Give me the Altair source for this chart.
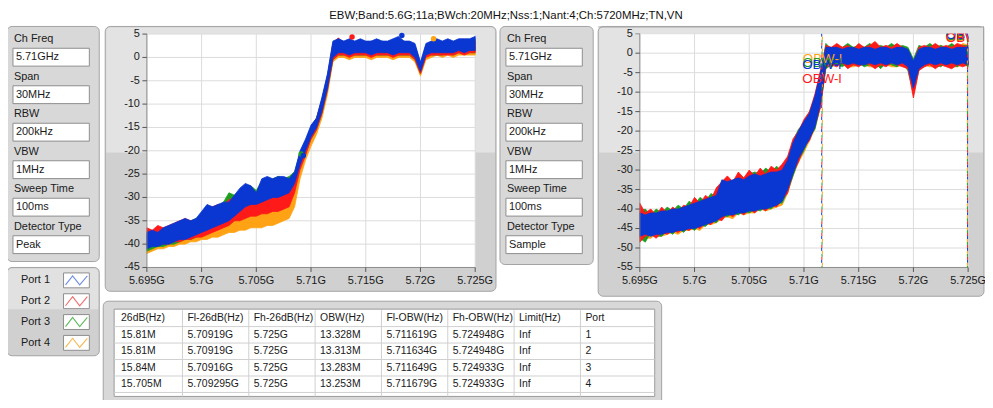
import altair as alt
import pandas as pd

# ---------------- data ----------------
TITLE = "EBW;Band:5.6G;11a;BWch:20MHz;Nss:1;Nant:4;Ch:5720MHz;TN,VN"
PORTS = ["Port 1", "Port 2", "Port 3", "Port 4"]
TRACE_COLORS = ["#0a36d2", "#ff1a1a", "#1e9e1e", "#ffa314"]
LEGEND_COLORS = ["#6d8ee8", "#f26b6b", "#5dbb5d", "#f8b64c"]

SETTING_NAMES = ["Ch Freq", "Span", "RBW", "VBW", "Sweep Time", "Detector Type"]
SETTINGS_LEFT = ["5.71GHz", "30MHz", "200kHz", "1MHz", "100ms", "Peak"]
SETTINGS_RIGHT = ["5.71GHz", "30MHz", "200kHz", "1MHz", "100ms", "Sample"]

TABLE_COLS = ["26dB(Hz)", "Fl-26dB(Hz)", "Fh-26dB(Hz)", "OBW(Hz)",
              "Fl-OBW(Hz)", "Fh-OBW(Hz)", "Limit(Hz)", "Port"]
TABLE_ROWS = [
    ["15.81M", "5.70919G", "5.725G", "13.328M", "5.711619G", "5.724948G", "Inf", "1"],
    ["15.81M", "5.70919G", "5.725G", "13.313M", "5.711634G", "5.724948G", "Inf", "2"],
    ["15.84M", "5.70916G", "5.725G", "13.283M", "5.711649G", "5.724933G", "Inf", "3"],
    ["15.705M", "5.709295G", "5.725G", "13.253M", "5.711679G", "5.724933G", "Inf", "4"],
]

X_TICKS = [5695, 5700, 5705, 5710, 5715, 5720, 5725]
X_TICK_LABELS = ["5.695G", "5.7G", "5.705G", "5.71G", "5.715G", "5.72G", "5.725G"]
Y_TICKS_1 = [5, 0, -5, -10, -15, -20, -25, -30, -35, -40, -45]
Y_TICKS_2 = [5, 0, -5, -10, -15, -20, -25, -30, -35, -40, -45, -50, -55]

FREQ = [5695.0, 5695.5, 5696.0, 5696.5, 5697.0, 5697.5, 5698.0, 5698.5, 5699.0, 5699.5,
        5700.0, 5700.5, 5701.0, 5701.5, 5702.0, 5702.5, 5703.0, 5703.5, 5704.0, 5704.5,
        5705.0, 5705.5, 5706.0, 5706.5, 5707.0, 5707.5, 5708.0, 5708.5, 5709.0, 5709.5,
        5710.0, 5710.5, 5711.0, 5711.5, 5712.0, 5712.5, 5713.0, 5713.5, 5714.0, 5714.5,
        5715.0, 5715.5, 5716.0, 5716.5, 5717.0, 5717.5, 5718.0, 5718.5, 5719.0, 5719.5,
        5720.0, 5720.5, 5721.0, 5721.5, 5722.0, 5722.5, 5723.0, 5723.5, 5724.0, 5724.5,
        5725.0]

# Chart 1 (Peak detector): envelope low / high per port, dBm
C1_P1_LO = [-41, -40.5, -40.5, -40, -40, -39.5, -39, -39, -38.5, -38,
            -37.5, -37, -36.5, -36, -35.5, -35, -34, -33, -32, -31.5,
            -31.5, -31, -30.5, -30, -30, -29.5, -29, -27, -23, -20,
            -17, -15, -11.5, -6.5, 0, 1, 1, 0.5, 1, 1,
            1, 0.5, 1, 1, 1, 0.5, 1, 1, 1, 0,
            -3, 0.5, 1, 1, 1, 1, 1, 1.5, 1, 1.5, 1.5]
C1_P1_HI = [-37.5, -37, -37.5, -36.5, -36, -35.5, -35, -34.5, -35, -34.5,
            -33, -31.5, -32, -31.5, -31, -31, -29.5, -28, -27, -27.5,
            -29, -26, -25.5, -26, -25.5, -25.5, -26, -24.5, -20, -17.5,
            -14.5, -13, -8.5, -3.5, 3.5, 4, 3.5, 4, 3.5, 4,
            3.5, 3.5, 4, 3.5, 3.5, 4, 4.5, 3.5, 3.5, 3,
            -1, 3, 3.5, 4, 3.5, 4, 3.5, 4, 4, 4, 4.5]
C1_P2_LO = [-40, -40, -39.5, -40, -40, -39.5, -39.5, -39, -39, -38.5,
            -38.5, -38, -37.5, -37, -36.5, -36, -35, -35, -34.5, -34,
            -34, -33.5, -33.5, -33, -33, -32.5, -32, -29, -24, -21,
            -17.5, -15.5, -12, -7, -0.5, 0.5, 0.5, 0, 0.5, 0.5,
            0.5, 0, 0.5, 0.5, 0.5, 0, 0.5, 0.5, 0.5, -0.5,
            -3.5, 0, 0.5, 0.5, 0.5, 0.5, 0.5, 1, 0.5, 1, 1]
C1_P2_HI = [-36.5, -37, -36, -36.5, -36, -35.5, -35, -34.5, -35, -35,
            -33.5, -32, -32, -31.5, -31.5, -30.5, -30, -29, -28.5, -28.5,
            -29.5, -28, -27.5, -27, -27.5, -27, -27.5, -25, -20.5, -18,
            -15, -13, -9, -4, 3, 4.2, 3, 3.5, 3, 3.5,
            3, 3, 3.5, 3, 3, 3.5, 3, 3, 3, 2.5,
            -1.5, 2.5, 3, 3.5, 3, 3, 3, 3.5, 3, 3, 3.5]
C1_P3_LO = [-41.5, -41, -40.5, -40.5, -40, -40, -39.5, -39, -39, -38.5,
            -38, -37.5, -37, -36.5, -36, -35.5, -35, -34, -33.5, -33,
            -32.5, -32, -32, -31.5, -31, -31, -30.5, -28, -23.5, -20.5,
            -17.5, -15.5, -12, -7, -0.5, 0.5, 0.5, 0.5, 0.5, 0.5,
            0.5, 0.5, 0.5, 0.5, 0.5, 0.5, 0.5, 0.5, 0.5, -0.5,
            -3.5, 0.5, 0.5, 0.5, 0.5, 1, 0.5, 1, 1, 1, 1]
C1_P3_HI = [-38, -37.5, -37, -37, -36.5, -36, -35.5, -35, -35, -34.5,
            -33.5, -32.5, -32, -32, -31, -29, -29.5, -28.5, -27.5, -27.5,
            -28.5, -26.5, -26, -26, -25.5, -26, -25.5, -24.5, -20.5, -18,
            -15, -13, -9, -4, 3, 3.5, 3, 3.5, 3, 3.5,
            3, 3.5, 3, 3.5, 3, 3.5, 3, 3.5, 3, 2.5,
            -1.5, 2.5, 3, 3.5, 3, 3.5, 3, 3.5, 3.5, 3.5, 4]
C1_P4_LO = [-42, -41.5, -41, -41, -40.5, -40.5, -40, -40, -39.5, -39.5,
            -39, -39, -38.5, -38.5, -38, -37.5, -37.5, -37, -37, -36.5,
            -36.5, -36.5, -36, -36, -35.5, -35, -34.5, -32, -26, -22,
            -19, -16.5, -13, -8, -1, 0, 0, -0.5, 0, 0,
            0, -0.5, 0, 0, 0, -0.5, 0, 0, 0, -1,
            -4, -0.5, 0, 0.5, 0, 0.5, 0, 0.5, 0.5, 0.5, 0.5]
C1_P4_HI = [-38, -37.5, -38, -37.5, -37, -36.5, -36, -36, -36, -35.5,
            -35, -34, -34, -33.5, -33, -32.5, -32, -31.5, -31, -31,
            -31.5, -31, -30.5, -30.5, -30, -30, -29.5, -27, -22, -19,
            -16, -14, -10, -5, 2, 2.5, 2.5, 2, 2.5, 2.5,
            2, 2.5, 2.5, 2, 2.5, 2.5, 2, 2.5, 2.5, 1.5,
            -2, 2, 2.5, 2.5, 2, 2.5, 2.5, 2, 2.5, 2.5, 2.5]

# Chart 1 markers (peak and -26 dB points)
C1_MARK_F = [5713.75, 5718.3, 5721.2, 5709.1, 5709.3]
C1_MARK_V = [4.4, 4.7, 4.0, -20.7, -21.0]
C1_MARK_PORT = ["Port 2", "Port 1", "Port 4", "Port 3", "Port 1"]

# Chart 2 (Sample detector)
C2_P1_LO = [-47, -46.5, -47, -46.5, -46.5, -46, -46, -45.5, -45.5, -45,
            -45, -44.5, -44, -43.5, -43, -42, -41.5, -41.5, -41, -41,
            -40.5, -40.5, -40, -40, -39.5, -39, -38, -35, -31, -27,
            -24.5, -22, -19, -13, -3, -2.5, -3, -2.5, -3, -2.5,
            -3, -3, -2.5, -3, -2.5, -3, -2.5, -3, -2.5, -3.5,
            -9, -4, -3, -2.5, -3, -2.5, -3, -2.5, -3, -2.5, -3]
C2_P1_HI = [-41, -41.5, -41, -41, -40.5, -40.5, -40, -40, -39.5, -39,
            -38.5, -38, -37.5, -37, -36.5, -32.5, -33, -32.5, -32, -32.5,
            -31.5, -31, -31.5, -31, -30.5, -30.5, -30, -27.5, -23, -20,
            -17.5, -15.5, -11, -5, 1.5, 1.5, 1.5, 1, 1.5, 1.5,
            1, 1.5, 1.5, 1, 1.5, 1.5, 1, 1.5, 1.5, 1,
            -2, 1, 1.5, 1.5, 1, 1.5, 1.5, 1, 1.5, 1.5, 1.5]
C2_P2_LO = [-48.5, -47, -46.5, -47.5, -46, -46.5, -45.5, -46, -45, -45.5,
            -44.5, -45, -43.5, -44, -42.5, -43, -41, -42, -40.5, -41.5,
            -40, -41, -39.5, -40.5, -39, -39.5, -37.5, -36, -30.5, -28,
            -24, -22.5, -18.5, -14, -3.5, -3, -3.5, -2.5, -4, -3,
            -3.5, -2.5, -3, -4, -3, -3.5, -2.5, -3, -3.5, -4,
            -11.5, -4.5, -3.5, -3, -4, -3, -3.5, -4, -3, -3.5, -3]
C2_P2_HI = [-38.5, -41, -40, -41.5, -39.5, -41, -39.5, -40.5, -39, -39.5,
            -37, -38.5, -36.5, -37.5, -34.5, -33, -31.5, -33, -30.5, -32,
            -30, -31.5, -29.5, -31, -29, -30, -28.5, -26.5, -22, -20,
            -17, -15, -10.5, -4.5, 2, 1.5, 2.5, 1.5, 2, 1,
            2.5, 1.5, 2, 3, 1.5, 2, 1.5, 2.5, 1.5, 0.5,
            -2.5, 1.5, 2, 1.5, 2.5, 1.5, 2, 1.5, 2.5, 2, 1.5]
C2_P3_LO = [-47.5, -48.5, -46, -47, -47, -45.5, -46.5, -45, -46, -44.5,
            -45.5, -44, -44.5, -43, -43.5, -41.5, -42, -41, -41.5, -40.5,
            -41, -40, -40.5, -39.5, -40, -38.5, -38.5, -35.5, -31.5, -27.5,
            -25, -21.5, -19.5, -13.5, -4, -3, -2.5, -3.5, -2.5, -3,
            -2.5, -3.5, -3, -2.5, -4, -2.5, -3, -3.5, -2.5, -4.5,
            -10, -4, -3.5, -2.5, -3, -3.5, -2.5, -3, -3.5, -2.5, -3.5]
C2_P3_HI = [-40.5, -40, -41.5, -40, -41, -39.5, -40.5, -39, -40, -38,
            -39, -37, -38, -36, -37, -33, -32, -33, -31.5, -32,
            -31, -30.5, -31, -29.5, -30.5, -29, -30.5, -27, -22.5, -19.5,
            -18, -15, -11.5, -5.5, 2.5, 1, 2, 1.5, 2.5, 1.5,
            2, 1.5, 2.5, 1.5, 2, 1.5, 2.5, 1.5, 2, 1.5,
            -1.5, 2, 1.5, 2.5, 1.5, 2, 1.5, 2.5, 1.5, 2, 2]
C2_P4_LO = [-48, -47.5, -47.5, -46.5, -47, -46.5, -46, -46.5, -45.5, -45.5,
            -45, -45.5, -44, -44, -43.5, -42.5, -42, -42.5, -41, -41.5,
            -41, -41, -40, -40.5, -40, -39.5, -39, -36, -31.5, -28,
            -25.5, -22.5, -19.5, -14, -3.5, -3.5, -3, -3, -3.5, -3.5,
            -3, -3, -3.5, -3.5, -3, -3, -3.5, -3.5, -3, -4,
            -10.5, -4.5, -3, -3.5, -3.5, -3, -3, -3.5, -3.5, -3, -3]
C2_P4_HI = [-41.5, -41, -40.5, -41.5, -40.5, -40, -41, -39.5, -40, -39.5,
            -38, -38.5, -37.5, -37, -35.5, -34, -33.5, -33, -32.5, -33,
            -32, -31.5, -32, -31, -31, -30, -29.5, -28, -23, -21,
            -18.5, -16, -12, -6, 1, 1, 1.5, 1, 1, 1.5,
            1, 1, 1.5, 1, 1, 1.5, 1, 1, 1.5, 0.5,
            -2.5, 1, 1, 1.5, 1, 2, 1, 1.5, 1, 2.5, 2]

# Chart 2 OBW cursors (MHz) and label heights (dBm)
OBW_L = [5711.619, 5711.634, 5711.649, 5711.679]
OBW_H = [5724.948, 5724.948, 5724.933, 5724.933]
OBW_L_LABEL_Y = [-3.0, -6.7, -2.6, -1.5]
OBW_H_LABEL_Y = [4.6, 3.9, 4.3, 4.1]

# ---------------- layout helpers ----------------
FONT = "Liberation Sans"
TXT = "#1a1a1a"
BORDER = "#a3a3a3"
PANEL = "#d8d8d8"
LIGHT = "#e3e3e3"
DARK = "#d0d0d0"
GRID = "#dcdcdc"
ONE = pd.DataFrame({"k": [0]})


def P(v):
    return v - 8


def rect(x0, y0, x1, y1, fill, stroke=None, radius=0, sw=1, **extra):
    kw = dict(fill=fill)
    if stroke:
        kw.update(stroke=stroke, strokeWidth=sw)
    if radius:
        kw["cornerRadius"] = radius
    kw.update(extra)
    return alt.Chart(ONE).mark_rect(**kw).encode(
        x=alt.value(P(x0)), x2=alt.value(P(x1)),
        y=alt.value(P(y0)), y2=alt.value(P(y1)))


def hline(x0, x1, y, color, sw=1):
    return alt.Chart(ONE).mark_rule(color=color, strokeWidth=sw).encode(
        x=alt.value(P(x0)), x2=alt.value(P(x1)), y=alt.value(P(y)))


def vline(x, y0, y1, color, sw=1):
    return alt.Chart(ONE).mark_rule(color=color, strokeWidth=sw).encode(
        x=alt.value(P(x)), y=alt.value(P(y0)), y2=alt.value(P(y1)))


def label(text, x, y, size=11, align="left", color=TXT):
    return alt.Chart(ONE).mark_text(text=text, align=align, baseline="middle",
                                    fontSize=size, font=FONT, color=color).encode(
        x=alt.value(P(x)), y=alt.value(P(y)))


trace_color = alt.Scale(domain=PORTS, range=TRACE_COLORS)
layers = []

# ---------------- panels ----------------
layers.append(label(TITLE, 510, 14, size=11.5, align="center", color="#111111"))

layers.append(rect(7, 25, 100, 262, PANEL, BORDER, 5))
layers.append(rect(106, 25, 500, 292, DARK, BORDER, 5))
layers.append(rect(107, 26, 499, 152, LIGHT, cornerRadiusTopLeft=4, cornerRadiusTopRight=4))
layers.append(rect(148, 32.7, 479, 268, "white"))
layers.append(rect(504, 25, 598, 265, PANEL, BORDER, 5))
layers.append(rect(603, 25, 992, 297, DARK, BORDER, 5))
layers.append(rect(604, 26, 991, 152, LIGHT, cornerRadiusTopLeft=4, cornerRadiusTopRight=4))
layers.append(rect(645, 32.3, 976, 268, "white"))
layers.append(rect(7, 268, 100, 357, DARK, BORDER, 5))
layers.append(rect(8, 269, 99, 310, "#e1e1e1", cornerRadiusTopLeft=4, cornerRadiusTopRight=4))
layers.append(rect(104, 302, 667, 412, PANEL, BORDER, 5))
layers.append(rect(115, 310, 660, 398, "white", "#9a9a9a"))

# ---------------- settings panels ----------------
settings_df = pd.DataFrame({"item": SETTING_NAMES, "left": SETTINGS_LEFT, "right": SETTINGS_RIGHT})
field_box = alt.Scale(domain=SETTING_NAMES, range=[P(47), P(254)], paddingInner=0.5238, paddingOuter=0)
field_txt = alt.Scale(domain=SETTING_NAMES, range=[P(37.1), P(263.9)], paddingInner=0, paddingOuter=0)
for x0, x1, col in [(13, 90, "left"), (510, 587, "right")]:
    layers.append(alt.Chart(settings_df).mark_rect(fill="white", stroke="#8e8e8e", strokeWidth=1).encode(
        y=alt.Y("item:N", scale=field_box, axis=None),
        x=alt.value(P(x0)), x2=alt.value(P(x1))))
    layers.append(alt.Chart(settings_df).mark_text(align="left", baseline="middle", fontSize=11,
                                                   font=FONT, color=TXT).encode(
        y=alt.Y("item:N", scale=field_txt, axis=None),
        x=alt.value(P(x0 + 3)), text=f"{col}:N"))
    layers.append(alt.Chart(settings_df).mark_text(align="left", baseline="middle", fontSize=11,
                                                   font=FONT, color=TXT, dy=-18).encode(
        y=alt.Y("item:N", scale=field_txt, axis=None),
        x=alt.value(P(x0 + 1)), text="item:N"))

# ---------------- legend ----------------
legend_df = pd.DataFrame({"port": PORTS})
leg_box = alt.Scale(domain=PORTS, range=[P(273.5), P(351.5)], paddingInner=0.2857, paddingOuter=0)
leg_txt = alt.Scale(domain=PORTS, range=[P(270.5), P(354.5)], paddingInner=0, paddingOuter=0)
layers.append(alt.Chart(legend_df).mark_text(align="left", baseline="middle", fontSize=11,
                                             font=FONT, color=TXT).encode(
    y=alt.Y("port:N", scale=leg_txt, axis=None), x=alt.value(P(21)), text="port:N"))
layers.append(alt.Chart(legend_df).mark_rect(fill="white", stroke="#8e8e8e").encode(
    y=alt.Y("port:N", scale=leg_box, axis=None), x=alt.value(P(64)), x2=alt.value(P(90))))
ZIGZAG = "M-1,0.42L-0.35,-0.42L0.3,0.42L1,-0.42"
layers.append(alt.Chart(legend_df).mark_point(shape=ZIGZAG, filled=False, strokeWidth=1.1,
                                              size=484, opacity=1).encode(
    y=alt.Y("port:N", scale=leg_txt, axis=None), x=alt.value(P(77)),
    stroke=alt.Stroke("port:N", scale=alt.Scale(domain=PORTS, range=LEGEND_COLORS), legend=None)))

# ---------------- table ----------------
ROW_KEYS = ["header", "r1", "r2", "r3", "r4"]
cells = []
for c, name in enumerate(TABLE_COLS):
    cells.append({"col": name, "row": "header", "txt": name})
    for r, row in enumerate(TABLE_ROWS):
        cells.append({"col": name, "row": ROW_KEYS[r + 1], "txt": row[c]})
cells_df = pd.DataFrame(cells)
COL_STEP = (652 - 117) / len(TABLE_COLS)
# band centres of this scale sit on the column boundaries (117, 184, 251, ...)
tcol = alt.Scale(domain=TABLE_COLS, range=[P(117 - COL_STEP / 2), P(652 - COL_STEP / 2)],
                 paddingInner=0, paddingOuter=0)
trow = alt.Scale(domain=ROW_KEYS, range=[P(311), P(394)], paddingInner=0, paddingOuter=0)
layers.append(alt.Chart(pd.DataFrame({"row": ROW_KEYS})).mark_rule(color="#cfcfcf").encode(
    y=alt.Y("row:N", scale=trow, bandPosition=1, axis=None),
    x=alt.value(P(115)), x2=alt.value(P(660))))
layers.append(alt.Chart(pd.DataFrame({"col": TABLE_COLS[1:]})).mark_rule(color="#cfcfcf").encode(
    x=alt.X("col:N", scale=tcol, axis=None),
    y=alt.value(P(311)), y2=alt.value(P(398))))
layers.append(alt.Chart(cells_df).mark_text(align="left", baseline="middle", fontSize=10.5,
                                            font=FONT, color=TXT, dx=5).encode(
    x=alt.X("col:N", scale=tcol, axis=None),
    y=alt.Y("row:N", scale=trow, axis=None), text="txt:N"))


# ---------------- spectrum charts ----------------
def spectrum(xr, yr, ydom, yticks, traces, plot_left, plot_top, plot_right, plot_bottom):
    xs = alt.Scale(domain=[5695, 5725], range=[P(xr[0]), P(xr[1])], nice=False, zero=False)
    ys = alt.Scale(domain=ydom, range=[P(yr[0]), P(yr[1])], nice=False, zero=False)
    out = []
    xt = pd.DataFrame({"v": X_TICKS, "t": X_TICK_LABELS})
    yt = pd.DataFrame({"v": yticks, "t": [str(v) for v in yticks]})
    out.append(alt.Chart(xt).mark_rule(color=GRID).encode(
        x=alt.X("v:Q", scale=xs, axis=None), y=alt.value(P(plot_top)), y2=alt.value(P(plot_bottom))))
    out.append(alt.Chart(yt).mark_rule(color=GRID).encode(
        y=alt.Y("v:Q", scale=ys, axis=None), x=alt.value(P(plot_left)), x2=alt.value(P(plot_right))))
    for port, lo, hi in traces:
        df = pd.DataFrame({"f": FREQ, "lo": lo, "hi": hi, "port": port})
        out.append(alt.Chart(df).mark_area(opacity=1, interpolate="linear", strokeWidth=0.8).encode(
            x=alt.X("f:Q", scale=xs, axis=None),
            y=alt.Y("lo:Q", scale=ys, axis=None), y2="hi:Q",
            color=alt.Color("port:N", scale=trace_color, legend=None),
            stroke=alt.Stroke("port:N", scale=trace_color, legend=None)))
    out.append(vline(plot_left, plot_top, plot_bottom, "#8c8c8c"))
    out.append(hline(plot_left, plot_right, plot_bottom, "#8c8c8c"))
    out.append(alt.Chart(xt).mark_rule(color="#555555").encode(
        x=alt.X("v:Q", scale=xs, axis=None), y=alt.value(P(plot_bottom)), y2=alt.value(P(plot_bottom + 4.5))))
    out.append(alt.Chart(yt).mark_rule(color="#555555").encode(
        y=alt.Y("v:Q", scale=ys, axis=None), x=alt.value(P(plot_left - 4.5)), x2=alt.value(P(plot_left))))
    out.append(alt.Chart(xt).mark_text(align="center", baseline="middle", fontSize=11, font=FONT,
                                       color=TXT).encode(
        x=alt.X("v:Q", scale=xs, axis=None), y=alt.value(P(plot_bottom + 14)), text="t:N"))
    out.append(alt.Chart(yt).mark_text(align="right", baseline="middle", fontSize=11, font=FONT,
                                       color=TXT).encode(
        y=alt.Y("v:Q", scale=ys, axis=None), x=alt.value(P(plot_left - 7)), text="t:N"))
    return out, xs, ys


traces1 = [("Port 4", C1_P4_LO, C1_P4_HI), ("Port 3", C1_P3_LO, C1_P3_HI),
           ("Port 2", C1_P2_LO, C1_P2_HI), ("Port 1", C1_P1_LO, C1_P1_HI)]
l1, xs1, ys1 = spectrum((148, 479), (268, 32.7), [-45, 5], Y_TICKS_1, traces1, 148, 32.7, 479, 268)
layers += l1
marks_df = pd.DataFrame({"f": C1_MARK_F, "v": C1_MARK_V, "port": C1_MARK_PORT})
layers.append(alt.Chart(marks_df).mark_circle(size=30, opacity=1).encode(
    x=alt.X("f:Q", scale=xs1, axis=None), y=alt.Y("v:Q", scale=ys1, axis=None),
    color=alt.Color("port:N", scale=trace_color, legend=None)))

traces2 = [("Port 4", C2_P4_LO, C2_P4_HI), ("Port 3", C2_P3_LO, C2_P3_HI),
           ("Port 2", C2_P2_LO, C2_P2_HI), ("Port 1", C2_P1_LO, C2_P1_HI)]
l2, xs2, ys2 = spectrum((645, 976), (268, 32.3), [-55, 5], Y_TICKS_2, traces2, 645, 32.3, 976, 268)
layers += l2

for k, port in enumerate(PORTS):
    cdf = pd.DataFrame({"f": [OBW_L[k], OBW_H[k]], "port": port})
    layers.append(alt.Chart(cdf).mark_rule(strokeWidth=1, strokeDash=[3, 9],
                                           strokeDashOffset=3 * k).encode(
        x=alt.X("f:Q", scale=xs2, axis=None), y=alt.value(P(32.3)), y2=alt.value(P(268)),
        color=alt.Color("port:N", scale=trace_color, legend=None)))
for k in [3, 2, 0, 1]:
    ldf = pd.DataFrame({"f": [OBW_L[k], OBW_H[k]], "v": [OBW_L_LABEL_Y[k], OBW_H_LABEL_Y[k]],
                        "t": ["OBW-l", "OBW-h"], "port": PORTS[k]})
    layers.append(alt.Chart(ldf).mark_text(align="center", baseline="middle", fontSize=13.5,
                                           font=FONT).encode(
        x=alt.X("f:Q", scale=xs2, axis=None), y=alt.Y("v:Q", scale=ys2, axis=None), text="t:N",
        color=alt.Color("port:N", scale=trace_color, legend=None)))
layers.append(rect(976.6, 26, 993, 60, LIGHT))
layers.append(rect(640, 26, 976.6, 32.0, LIGHT))
layers.append(vline(991.5, 25, 60, BORDER))
layers.append(hline(603, 992, 25.5, BORDER))

chart = alt.layer(*layers).resolve_scale(
    x="independent", y="independent", color="independent", stroke="independent"
).properties(
    width=985, height=392, padding=0, background="white",
    autosize=alt.AutoSizeParams(type="none")
).configure_view(stroke=None)

chart.save("out.html", embed_options={"renderer": "svg", "actions": False})
